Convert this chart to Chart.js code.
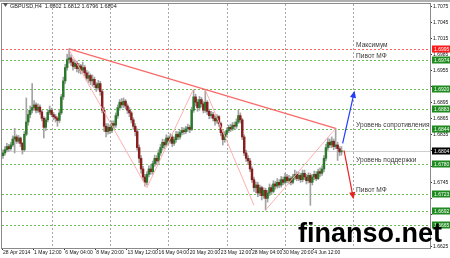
<!DOCTYPE html>
<html>
<head>
<meta charset="utf-8">
<script src="https://cdn.jsdelivr.net/npm/chart.js@4.4.0/dist/chart.umd.min.js"></script>
<style>
  html, body { margin: 0; padding: 0; background: #fff; }
  #wrap { width: 450px; height: 258px; }
</style>
</head>
<body>
<div id="wrap"><canvas id="chart" width="450" height="258"></canvas></div>
<script>
const symbolName = 'GBPUSD,H4';
const firstOpen = 1.6795;

// H4 candles, 28 Apr - 5 Jun 2014
const closes = [
  1.6800, 1.6806, 1.6812, 1.6808, 1.6815, 1.6826, 1.6830, 1.6822, 1.6828, 1.6818,
  1.6806, 1.6835, 1.6858, 1.6872, 1.6880, 1.6885, 1.6890, 1.6880, 1.6886, 1.6877,
  1.6865, 1.6848, 1.6862, 1.6876, 1.6880, 1.6872, 1.6868, 1.6865, 1.6861, 1.6875,
  1.6905, 1.6935, 1.6960, 1.6975, 1.6978, 1.6970, 1.6962, 1.6968, 1.6958, 1.6963,
  1.6955, 1.6960, 1.6950, 1.6940, 1.6945, 1.6935, 1.6938, 1.6928, 1.6922, 1.6930,
  1.6915, 1.6880, 1.6850, 1.6840, 1.6848, 1.6842, 1.6855, 1.6852, 1.6870, 1.6885,
  1.6895, 1.6890, 1.6897, 1.6888, 1.6880, 1.6875, 1.6862, 1.6850, 1.6840, 1.6810,
  1.6790, 1.6770, 1.6755, 1.6745, 1.6760, 1.6770, 1.6765, 1.6780, 1.6790, 1.6785,
  1.6800, 1.6810, 1.6820, 1.6815, 1.6828, 1.6822, 1.6830, 1.6818, 1.6825, 1.6835,
  1.6830, 1.6838, 1.6842, 1.6840, 1.6845, 1.6848, 1.6844, 1.6880, 1.6905, 1.6895,
  1.6885, 1.6900, 1.6892, 1.6880, 1.6895, 1.6878, 1.6870, 1.6872, 1.6865, 1.6860,
  1.6868, 1.6855, 1.6838, 1.6825, 1.6835, 1.6842, 1.6848, 1.6845, 1.6852, 1.6850,
  1.6858, 1.6870, 1.6862, 1.6830, 1.6800, 1.6790, 1.6785, 1.6770, 1.6750, 1.6735,
  1.6740, 1.6725, 1.6735, 1.6720, 1.6730, 1.6715, 1.6725, 1.6735, 1.6728, 1.6742,
  1.6738, 1.6745, 1.6740, 1.6750, 1.6745, 1.6755, 1.6748, 1.6752, 1.6745, 1.6755,
  1.6760, 1.6752, 1.6758, 1.6750, 1.6762, 1.6755, 1.6748, 1.6758, 1.6745, 1.6755,
  1.6760, 1.6752, 1.6765, 1.6762, 1.6770, 1.6790, 1.6810, 1.6820, 1.6815, 1.6822,
  1.6812, 1.6815, 1.6808, 1.6802, 1.6804
];
const highs = [
  1.6806, 1.6812, 1.6818, 1.6816, 1.6820, 1.6832, 1.6846, 1.6834, 1.6833, 1.6830,
  1.6820, 1.6840, 1.6903, 1.6880, 1.6888, 1.6930, 1.6898, 1.6894, 1.6892, 1.6890,
  1.6880, 1.6868, 1.6866, 1.6880, 1.6888, 1.6884, 1.6876, 1.6872, 1.6868, 1.6880,
  1.6910, 1.6942, 1.6966, 1.6985, 1.6995, 1.6984, 1.6975, 1.6974, 1.6972, 1.6968,
  1.6966, 1.6970, 1.6964, 1.6955, 1.6952, 1.6948, 1.6946, 1.6942, 1.6932, 1.6936,
  1.6934, 1.6918, 1.6885, 1.6855, 1.6855, 1.6852, 1.6860, 1.6860, 1.6875, 1.6890,
  1.6900, 1.6902, 1.6903, 1.6900, 1.6892, 1.6885, 1.6878, 1.6866, 1.6855, 1.6845,
  1.6815, 1.6795, 1.6775, 1.6760, 1.6765, 1.6776, 1.6778, 1.6785, 1.6796, 1.6795,
  1.6806, 1.6816, 1.6826, 1.6825, 1.6834, 1.6832, 1.6836, 1.6834, 1.6830, 1.6840,
  1.6840, 1.6843, 1.6848, 1.6847, 1.6850, 1.6854, 1.6852, 1.6886, 1.6918, 1.6910,
  1.6900, 1.6906, 1.6904, 1.6896, 1.6918, 1.6898, 1.6882, 1.6878, 1.6876, 1.6870,
  1.6872, 1.6870, 1.6858, 1.6842, 1.6840, 1.6847, 1.6852, 1.6854, 1.6857, 1.6858,
  1.6864, 1.6880, 1.6875, 1.6865, 1.6834, 1.6805, 1.6795, 1.6790, 1.6774, 1.6755,
  1.6746, 1.6745, 1.6740, 1.6738, 1.6735, 1.6734, 1.6730, 1.6742, 1.6740, 1.6748,
  1.6747, 1.6752, 1.6750, 1.6756, 1.6755, 1.6762, 1.6760, 1.6758, 1.6756, 1.6760,
  1.6768, 1.6765, 1.6764, 1.6762, 1.6768, 1.6768, 1.6760, 1.6763, 1.6762, 1.6760,
  1.6766, 1.6765, 1.6770, 1.6772, 1.6776, 1.6795, 1.6816, 1.6828, 1.6826, 1.6830,
  1.6826, 1.6846, 1.6820, 1.6812, 1.6812
];
const lows = [
  1.6790, 1.6796, 1.6802, 1.6803, 1.6805, 1.6812, 1.6800, 1.6818, 1.6818, 1.6812,
  1.6798, 1.6803, 1.6832, 1.6852, 1.6866, 1.6875, 1.6880, 1.6875, 1.6876, 1.6872,
  1.6860, 1.6828, 1.6842, 1.6858, 1.6872, 1.6868, 1.6862, 1.6858, 1.6850, 1.6857,
  1.6872, 1.6900, 1.6930, 1.6955, 1.6968, 1.6964, 1.6955, 1.6958, 1.6952, 1.6950,
  1.6948, 1.6950, 1.6945, 1.6935, 1.6932, 1.6928, 1.6925, 1.6922, 1.6915, 1.6918,
  1.6908, 1.6875, 1.6840, 1.6830, 1.6835, 1.6836, 1.6838, 1.6845, 1.6848, 1.6865,
  1.6880, 1.6884, 1.6885, 1.6882, 1.6874, 1.6868, 1.6856, 1.6844, 1.6832, 1.6805,
  1.6782, 1.6762, 1.6748, 1.6738, 1.6740, 1.6755, 1.6760, 1.6760, 1.6775, 1.6778,
  1.6780, 1.6795, 1.6805, 1.6808, 1.6812, 1.6816, 1.6818, 1.6812, 1.6814, 1.6820,
  1.6825, 1.6826, 1.6834, 1.6835, 1.6836, 1.6840, 1.6838, 1.6842, 1.6876, 1.6888,
  1.6878, 1.6880, 1.6886, 1.6875, 1.6876, 1.6872, 1.6864, 1.6865, 1.6860, 1.6852,
  1.6856, 1.6850, 1.6832, 1.6815, 1.6820, 1.6830, 1.6838, 1.6840, 1.6842, 1.6845,
  1.6846, 1.6855, 1.6856, 1.6825, 1.6795, 1.6784, 1.6778, 1.6765, 1.6745, 1.6728,
  1.6725, 1.6718, 1.6720, 1.6712, 1.6715, 1.6693, 1.6708, 1.6720, 1.6722, 1.6725,
  1.6732, 1.6734, 1.6735, 1.6736, 1.6740, 1.6742, 1.6744, 1.6742, 1.6740, 1.6742,
  1.6750, 1.6748, 1.6748, 1.6745, 1.6746, 1.6750, 1.6742, 1.6744, 1.6702, 1.6740,
  1.6750, 1.6748, 1.6750, 1.6756, 1.6758, 1.6765, 1.6785, 1.6805, 1.6810, 1.6810,
  1.6806, 1.6808, 1.6786, 1.6795, 1.6796
];

const timeLabels = ['28 Apr 2014', '1 May 12:00', '6 May 04:00', '8 May 20:00', '13 May 12:00',
  '16 May 04:00', '20 May 20:00', '23 May 12:00', '28 May 04:00', '30 May 20:00', '4 Jun 12:00'];
const barsPerLabel = 16;
const barSlots = 220;          // includes the empty space to the right
const gridBars = [25, 55, 85, 115, 145, 180];

const priceTicks = [1.7075, 1.7045, 1.7015, 1.6985, 1.6955, 1.6925, 1.6895, 1.6865,
  1.6835, 1.6805, 1.6775, 1.6745, 1.6715, 1.6685, 1.6625];
const maxLevel = 1.6995;
const pivotLevels = [1.6974, 1.6920, 1.6883, 1.6844, 1.6780, 1.6723, 1.6692, 1.6665];

const noteTexts = ['Максимум', 'Пивот МФ', 'Уровень сопротивления', 'Уровень поддержки', 'Пивот МФ'];
const notePrices = [1.6995, 1.6974, 1.6844, 1.6780, 1.6723];
const noteBar = 181;

// drawn objects as [bar, price]
const resistanceLine = [[34, 1.6995], [171, 1.6846]];
const zigzagLines = [
  [[34, 1.6993], [74, 1.6735]],
  [[74, 1.6735], [98, 1.6920]],
  [[104, 1.6918], [129, 1.6702]],
  [[135, 1.6693], [171, 1.6846]]
];
const upArrow = [[174.6, 1.6818], [180.5, 1.6913]];
const downArrow = [[175.3, 1.6805], [180, 1.6717]];

const opens = closes.map((c, i) => i === 0 ? firstOpen : closes[i - 1]);
const lastIdx = closes.length - 1;
const currentPrice = closes[lastIdx];

const slotLabels = Array.from({ length: barSlots }, (_, i) =>
  i % barsPerLabel === 0 && timeLabels[i / barsPerLabel] ? timeLabels[i / barsPerLabel] : '');

const FONT = '"Liberation Sans", Arial, sans-serif';
const UP = '#2b7a2b', DOWN = '#8a1d1d', WICK = '#a3a3a3';

function seg(ctx, x1, y1, x2, y2) {
  ctx.beginPath(); ctx.moveTo(x1, y1); ctx.lineTo(x2, y2); ctx.stroke();
}

function arrow(ctx, x, y, pts, color) {
  const [a, b] = pts;
  const x1 = x.getPixelForValue(a[0]), y1 = y.getPixelForValue(a[1]);
  const x2 = x.getPixelForValue(b[0]), y2 = y.getPixelForValue(b[1]);
  ctx.strokeStyle = color; ctx.fillStyle = color; ctx.lineWidth = 1.2;
  seg(ctx, x1, y1, x2, y2);
  const ang = Math.atan2(y2 - y1, x2 - x1);
  ctx.beginPath();
  ctx.moveTo(x2 + Math.cos(ang) * 2, y2 + Math.sin(ang) * 2);
  ctx.lineTo(x2 + Math.cos(ang + 2.6) * 6, y2 + Math.sin(ang + 2.6) * 6);
  ctx.lineTo(x2 + Math.cos(ang - 2.6) * 6, y2 + Math.sin(ang - 2.6) * 6);
  ctx.closePath(); ctx.fill();
}

const overlay = {
  id: 'overlay',
  beforeDatasetsDraw(chart) {
    const { ctx, chartArea: a, scales: { x, y } } = chart;
    ctx.save();
    ctx.beginPath(); ctx.rect(a.left, a.top, a.right - a.left, a.bottom - a.top); ctx.clip();
    ctx.lineWidth = 1;
    ctx.setLineDash([2, 2]);
    ctx.strokeStyle = '#a8a8a8';
    gridBars.forEach(b => {
      const X = Math.round(x.getPixelForValue(b)) + 0.5;
      seg(ctx, X, a.top, X, a.bottom);
    });
    ctx.strokeStyle = 'rgb(110,185,90)';
    pivotLevels.forEach(v => {
      const Y = Math.round(y.getPixelForValue(v)) + 0.5;
      seg(ctx, a.left, Y, a.right, Y);
    });
    ctx.strokeStyle = 'rgb(255,95,95)';
    let Y = Math.round(y.getPixelForValue(maxLevel)) + 0.5;
    seg(ctx, a.left, Y, a.right, Y);
    ctx.setLineDash([]);
    ctx.strokeStyle = '#cfcfcf';
    Y = Math.round(y.getPixelForValue(currentPrice)) + 0.5;
    seg(ctx, a.left, Y, a.right, Y);
    ctx.restore();
  },
  afterDatasetsDraw(chart) {
    const { ctx, chartArea: a, scales: { x, y } } = chart;
    ctx.save();
    ctx.beginPath(); ctx.rect(a.left, a.top, a.right - a.left, a.bottom - a.top); ctx.clip();
    const P = p => [x.getPixelForValue(p[0]), y.getPixelForValue(p[1])];
    ctx.lineWidth = 1;
    ctx.strokeStyle = 'rgb(255,175,175)';
    zigzagLines.forEach(l => { const [p, q] = l.map(P); seg(ctx, p[0], p[1], q[0], q[1]); });
    ctx.strokeStyle = 'rgb(250,105,105)';
    ctx.lineWidth = 1.2;
    { const [p, q] = resistanceLine.map(P); seg(ctx, p[0], p[1], q[0], q[1]); }
    arrow(ctx, x, y, upArrow, 'rgb(35,60,250)');
    arrow(ctx, x, y, downArrow, 'rgb(232,35,35)');
    ctx.fillStyle = '#3a3a3a';
    ctx.font = '6.6px ' + FONT;
    ctx.textBaseline = 'alphabetic';
    noteTexts.forEach((t, i) => {
      ctx.fillText(t, x.getPixelForValue(noteBar) + 1, y.getPixelForValue(notePrices[i]) - 2);
    });
    ctx.restore();
  },
  afterDraw(chart) {
    const { ctx, chartArea: a, scales: { y } } = chart;
    ctx.save();
    // frame
    ctx.strokeStyle = '#8a8a8a'; ctx.lineWidth = 1;
    ctx.strokeRect(a.left - 0.5, a.top - 0.5, a.right - a.left + 1, a.bottom - a.top + 1);
    ctx.strokeStyle = '#b0b0b0'; ctx.lineWidth = 2;
    seg(ctx, 0, 1, 450, 1);
    // level tags on the price axis
    ctx.font = '5px ' + FONT;
    ctx.textAlign = 'left'; ctx.textBaseline = 'middle';
    const tag = (v, bg) => {
      const Y = Math.round(y.getPixelForValue(v));
      ctx.fillStyle = bg;
      ctx.fillRect(a.right + 2, Y - 3.5, 18, 7);
      ctx.fillStyle = '#fff';
      ctx.fillText(v.toFixed(4), a.right + 4, Y + 0.5);
    };
    pivotLevels.forEach(v => tag(v, '#1f8a1f'));
    tag(maxLevel, '#ff1a1a');
    tag(currentPrice, '#000');
    // header
    ctx.fillStyle = '#555';
    ctx.beginPath(); ctx.moveTo(3, 3); ctx.lineTo(8, 3); ctx.lineTo(5.5, 7); ctx.closePath(); ctx.fill();
    ctx.fillStyle = '#222';
    ctx.font = '5.5px ' + FONT;
    ctx.fillText(symbolName + '  ' + [opens[lastIdx], highs[lastIdx], lows[lastIdx], closes[lastIdx]]
      .map(v => v.toFixed(4)).join(' '), 10, 6);
    // watermark
    ctx.fillStyle = '#000';
    ctx.font = 'bold 27px ' + FONT;
    ctx.textBaseline = 'alphabetic';
    ctx.fillText('finanso.net', 298, 242);
    ctx.restore();
  }
};

const nearTag = v => [maxLevel, currentPrice, ...pivotLevels].some(l => Math.abs(l - v) < 0.00085);

new Chart(document.getElementById('chart'), {
  type: 'bar',
  data: {
    labels: slotLabels,
    datasets: [
      {
        label: 'body',
        data: closes.map((c, i) => [opens[i], c]),
        backgroundColor: closes.map((c, i) => c >= opens[i] ? UP : DOWN),
        barThickness: 1.8,
        minBarLength: 1,
        grouped: false,
        order: 0
      },
      {
        label: 'wick',
        data: closes.map((c, i) => [lows[i], highs[i]]),
        backgroundColor: WICK,
        barThickness: 1,
        grouped: false,
        order: 1
      }
    ]
  },
  options: {
    responsive: false,
    animation: false,
    devicePixelRatio: 1,
    layout: { padding: { left: 2, top: 3, right: 0, bottom: 0 } },
    plugins: { legend: { display: false }, tooltip: { enabled: false } },
    scales: {
      x: {
        offset: true,
        afterFit: s => { s.height = 10; },
        grid: {
          drawOnChartArea: false,
          tickLength: 2,
          color: c => slotLabels[c.index] ? '#333' : 'rgba(0,0,0,0)'
        },
        border: { display: false },
        ticks: {
          autoSkip: false, maxRotation: 0, minRotation: 0, align: 'start',
          padding: 0, color: '#111',
          font: { size: 5, family: FONT },
          callback: (v, i) => slotLabels[i]
        }
      },
      y: {
        position: 'right',
        min: 1.6622,
        max: 1.7079,
        afterBuildTicks: s => { s.ticks = priceTicks.map(v => ({ value: v })); },
        afterFit: s => { s.width = 20; },
        grid: { drawOnChartArea: false, tickLength: 2, color: '#333' },
        border: { display: false },
        ticks: {
          padding: 1, color: '#111',
          font: { size: 5, family: FONT },
          callback: v => nearTag(v) ? '' : v.toFixed(4)
        }
      }
    }
  },
  plugins: [overlay]
});
</script>
</body>
</html>
